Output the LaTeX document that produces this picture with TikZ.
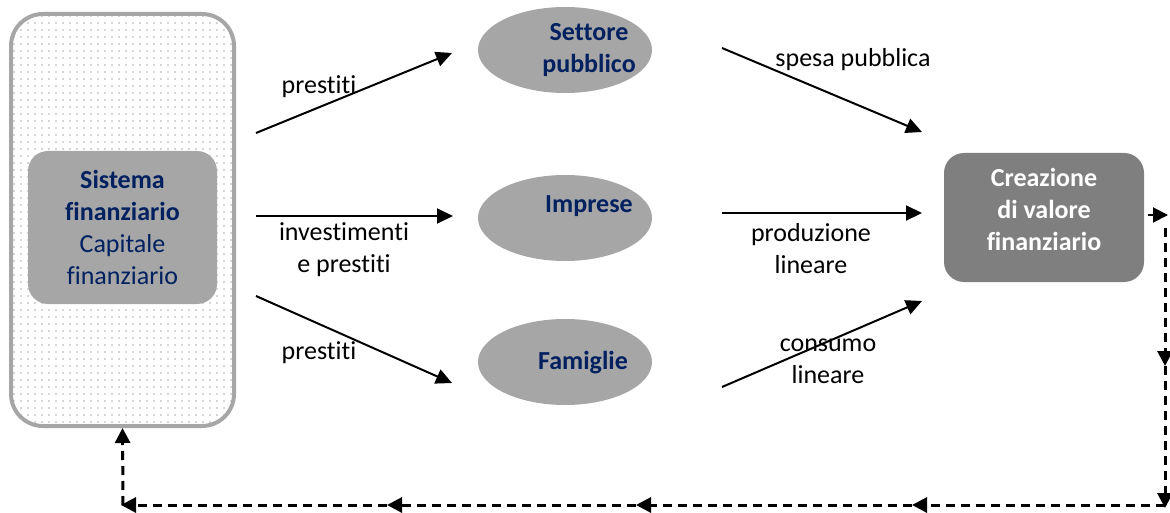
\documentclass[tikz,border=0pt]{standalone}
\usepackage{fontspec}
\setmainfont{Carlito}[Ligatures=NoCommon]
\usetikzlibrary{arrows.meta,patterns.meta,shapes.geometric}
\definecolor{navy}{HTML}{002060}
\definecolor{boxgray}{HTML}{A6A6A6}
\definecolor{darkbox}{HTML}{7F7F7F}
\begin{document}
\begin{tikzpicture}[x=1pt,y=-1pt,
  txt/.style={font=\fontsize{26}{32}\selectfont, inner sep=0pt, align=center},
  flow/.style={line width=2pt, -{Triangle[length=16pt,width=15pt]}},
  back/.style={line width=3pt, dash pattern=on 9pt off 6pt, -{Triangle[length=15pt,width=15pt]}},
  ell/.style={ellipse, fill=boxgray, minimum width=174pt, minimum height=86pt, inner sep=0pt},
]
\useasboundingbox (0,0) rectangle (1170,513);
% outer dotted box
\node[draw=boxgray, line width=4pt, rounded corners=32pt,
  pattern={Dots[distance=7pt,radius=0.85pt]}, pattern color=gray!65,
  minimum width=223pt, minimum height=412pt, inner sep=0pt] (outer) at (122.5,220) {};
% inner box
\node[fill=boxgray, rounded corners=20pt, minimum width=189pt, minimum height=153pt,
  inner sep=0pt, txt, text=navy] (sis) at (122.5,227.5)
  {\textbf{Sistema}\\\textbf{finanziario}\\Capitale\\finanziario};
% ellipses
\node[ell] (sp) at (565,50) {};
\node[ell] (im) at (565,218) {};
\node[ell] (fa) at (565,362) {};
\node[txt, text=navy, font=\fontsize{26}{32}\selectfont\bfseries] (sptext) at (589,50) {Settore\\pubblico};
\node[txt, text=navy, font=\fontsize{26}{32}\selectfont\bfseries] (imtext) at (589,206) {Imprese};
\node[txt, text=navy, font=\fontsize{26}{32}\selectfont\bfseries] (fatext) at (583,363) {Famiglie};
% creazione box
\node[fill=darkbox, rounded corners=20pt, minimum width=200pt, minimum height=129pt,
  inner sep=0pt] (cre) at (1044,217.5) {};
\node[txt, text=white, font=\fontsize{26}{32}\selectfont\bfseries] (cretext) at (1044,209) {Creazione\\di valore\\finanziario};
% labels
\node[txt] (l1) at (319,87) {prestiti};
\node[txt] (l2) at (344,250) {investimenti\\e prestiti};
\node[txt] (l3) at (319,353) {prestiti};
\node[txt] (l4) at (853,60) {spesa pubblica};
\node[txt] (l5) at (811,249) {produzione\\lineare};
\node[txt] (l6) at (828,361) {consumo\\lineare};
% arrow end points
\coordinate (a1s) at (256,133); \coordinate (a1e) at (452,53);
\coordinate (a2s) at (256,216); \coordinate (a2e) at (453,216);
\coordinate (a3s) at (256,296); \coordinate (a3e) at (452,383);
\coordinate (b1s) at (722,48);  \coordinate (b1e) at (922,132);
\coordinate (b2s) at (722,213); \coordinate (b2e) at (922,213);
\coordinate (b3s) at (722,387); \coordinate (b3e) at (922,301);
\draw[flow] (a1s) -- (a1e);
\draw[flow] (a2s) -- (a2e);
\draw[flow] (a3s) -- (a3e);
\draw[flow] (b1s) -- (b1e);
\draw[flow] (b2s) -- (b2e);
\draw[flow] (b3s) -- (b3e);
% dashed feedback loop
\coordinate (d0) at (1148,215); \coordinate (d1) at (1168,215);
\coordinate (d2) at (1165,228); \coordinate (d3) at (1165,366); \coordinate (d4) at (1165,508);
\coordinate (h0) at (1165,505); \coordinate (h1) at (912,505); \coordinate (h2) at (636,505);
\coordinate (h3) at (387,505); \coordinate (h4) at (121,505);
\coordinate (u0) at (123,505);
\draw[back, line width=2pt] (d0) -- (d1);
\draw[back] (d2) -- (d3);
\draw[back] (d3) -- (d4);
\draw[back] (h0) -- (h1);
\draw[back] (h1) -- (h2);
\draw[back] (h2) -- (h3);
\draw[back] (h3) -- (h4);
\draw[back] (u0) -- (outer.south);
\end{tikzpicture}
\end{document}
